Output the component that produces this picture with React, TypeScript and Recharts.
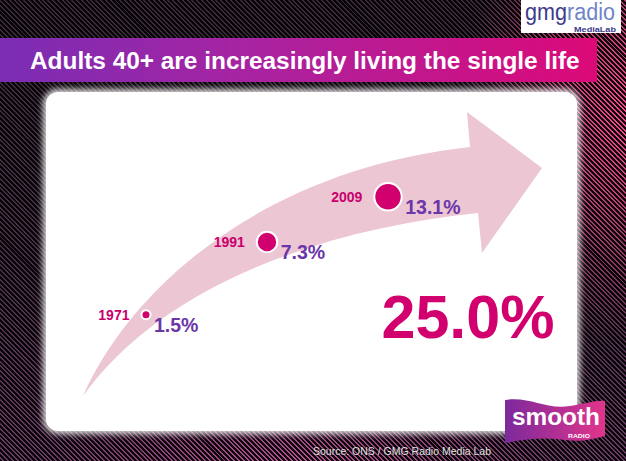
import { ScatterChart, Scatter, XAxis, YAxis, ZAxis } from 'recharts';

// values
const years = ['1971', '1991', '2009'];
const shares = [1.5, 7.3, 13.1];
const title = 'Adults 40+ are increasingly living the single life';
const headline = '25.0%';
const source = 'Source: ONS / GMG Radio Media Lab';

const data = years.map((year, i) => ({ year, share: shares[i] }));

const FONT = '"Liberation Sans", Arial, Helvetica, sans-serif';
const MAGENTA = '#d2006e';
const PURPLE = '#6a36a8';

const Bubble = (props: any) => {
  const { cx, cy, payload } = props;
  const r = props.width ? props.width / 2 : Math.sqrt((props.size || 0) / Math.PI);
  return (
    <g>
      <circle cx={cx} cy={cy} r={r} fill={MAGENTA} stroke="#fff" strokeWidth={2} />
      <text
        x={cx - r - 12}
        y={cy + 5}
        textAnchor="end"
        fontFamily={FONT}
        fontSize={14}
        fontWeight="bold"
        fill="#c9006c"
      >
        {payload.year}
      </text>
      <text x={cx + r + 3.5} y={cy + 17.5} fontFamily={FONT} fontSize={19.5} fontWeight="bold" fill={PURPLE}>
        {payload.share.toFixed(1)}%
      </text>
    </g>
  );
};

const stripes =
  'repeating-linear-gradient(45deg, rgba(0,0,0,0.92) 0px, rgba(0,0,0,0.92) 2px, rgba(0,0,0,0) 2px, rgba(0,0,0,0) 3.4px), ' +
  'radial-gradient(ellipse 170px 230px at 630px 110px, #ff4a92 0%, rgba(255,74,146,0.6) 45%, rgba(255,74,146,0) 100%), ' +
  'radial-gradient(ellipse 260px 60px at 300px 461px, rgba(220,90,170,0.7) 0%, rgba(220,90,170,0) 100%), ' +
  'linear-gradient(to bottom, #3a2a3a 0%, #4a3048 60%, #6a3a64 100%)';

export default function App() {
  return (
    <div
      style={{
        position: 'absolute',
        left: 0,
        top: 0,
        width: 626,
        height: 461,
        overflow: 'hidden',
        background: stripes,
        fontFamily: FONT,
      }}
    >
      {/* title bar */}
      <div
        style={{
          position: 'absolute',
          left: 0,
          top: 38,
          width: 597,
          height: 44,
          background: 'linear-gradient(to right, #7a2db4 0%, #a624a2 40%, #dc0a78 100%)',
        }}
      />
      {/* white panel */}
      <div
        style={{
          position: 'absolute',
          left: 46,
          top: 92,
          width: 531,
          height: 339,
          borderRadius: 12,
          background: '#fff',
          boxShadow: '0 0 6px 3px rgba(255,255,255,0.85)',
        }}
      />
      <svg width={626} height={461} style={{ position: 'absolute', left: 0, top: 0 }}>
        <text x={30} y={69} fontFamily={FONT} fontSize={24.4} fontWeight="bold" fill="#fff">
          {title}
        </text>
        <path
          d="M83,396 C130,290 260,170 470,147 L467,112 L542,168 L482,253 L478,213 C330,228 165,282 83,396 Z"
          fill="#ecc6d3"
        />
      </svg>
      <div style={{ position: 'absolute', left: 0, top: 0 }}>
        <ScatterChart width={626} height={461} margin={{ top: 178, right: 177.5, bottom: 86, left: 85.5 }}>
          <XAxis dataKey="year" type="category" allowDuplicatedCategory={false} hide />
          <YAxis dataKey="share" type="number" scale="sqrt" domain={[0, 16]} hide />
          <ZAxis dataKey="share" type="number" domain={['dataMin', 'dataMax']} range={[64, 590]} />
          <Scatter data={data} shape={Bubble} isAnimationActive={false} />
        </ScatterChart>
      </div>
      <svg width={626} height={461} style={{ position: 'absolute', left: 0, top: 0, pointerEvents: 'none' }}>
        <text x={468} y={338} textAnchor="middle" fontFamily={FONT} fontSize={61} fontWeight="bold" fill={MAGENTA}>
          {headline}
        </text>
        {/* gmg radio logo */}
        <rect x={521} y={0} width={100} height={33} fill="#fff" />
        <text x={525} y={20} fontFamily={FONT} fontSize={23} textLength={90} lengthAdjust="spacingAndGlyphs">
          <tspan fill="#3d3a8c">gmg</tspan>
          <tspan fill="#6f83c8">radio</tspan>
        </text>
        <text x={574} y={31.5} fontFamily={FONT} fontSize={7} fontWeight="bold" fill="#3d3a8c" textLength={42} lengthAdjust="spacingAndGlyphs">
          MediaLab
        </text>
        {/* smooth radio logo */}
        <defs>
          <linearGradient id="smoothFlag" x1="0" y1="0" x2="1" y2="0">
            <stop offset="0%" stopColor="#7c2a9c" />
            <stop offset="100%" stopColor="#e2348c" />
          </linearGradient>
        </defs>
        <path d="M505,400 C530,396 545,410 570,406 C585,404 595,400 605,401 L605,436 C590,440 580,442 565,440 C545,437 525,439 505,443 Z" fill="url(#smoothFlag)" />
        <text x={512} y={425} fontFamily={FONT} fontSize={23} fontWeight="bold" fill="#fff" textLength={88} lengthAdjust="spacingAndGlyphs">
          smooth
        </text>
        <text x={568} y={437.5} fontFamily={FONT} fontSize={6} fontWeight="bold" fill="#fff" textLength={22} lengthAdjust="spacingAndGlyphs">
          RADIO
        </text>
        <text x={313} y={455} fontFamily={FONT} fontSize={11} fill="#e4e4e4" textLength={178} lengthAdjust="spacingAndGlyphs" style={{ textShadow: '0 0 2px #000' }}>
          {source}
        </text>
      </svg>
    </div>
  );
}
